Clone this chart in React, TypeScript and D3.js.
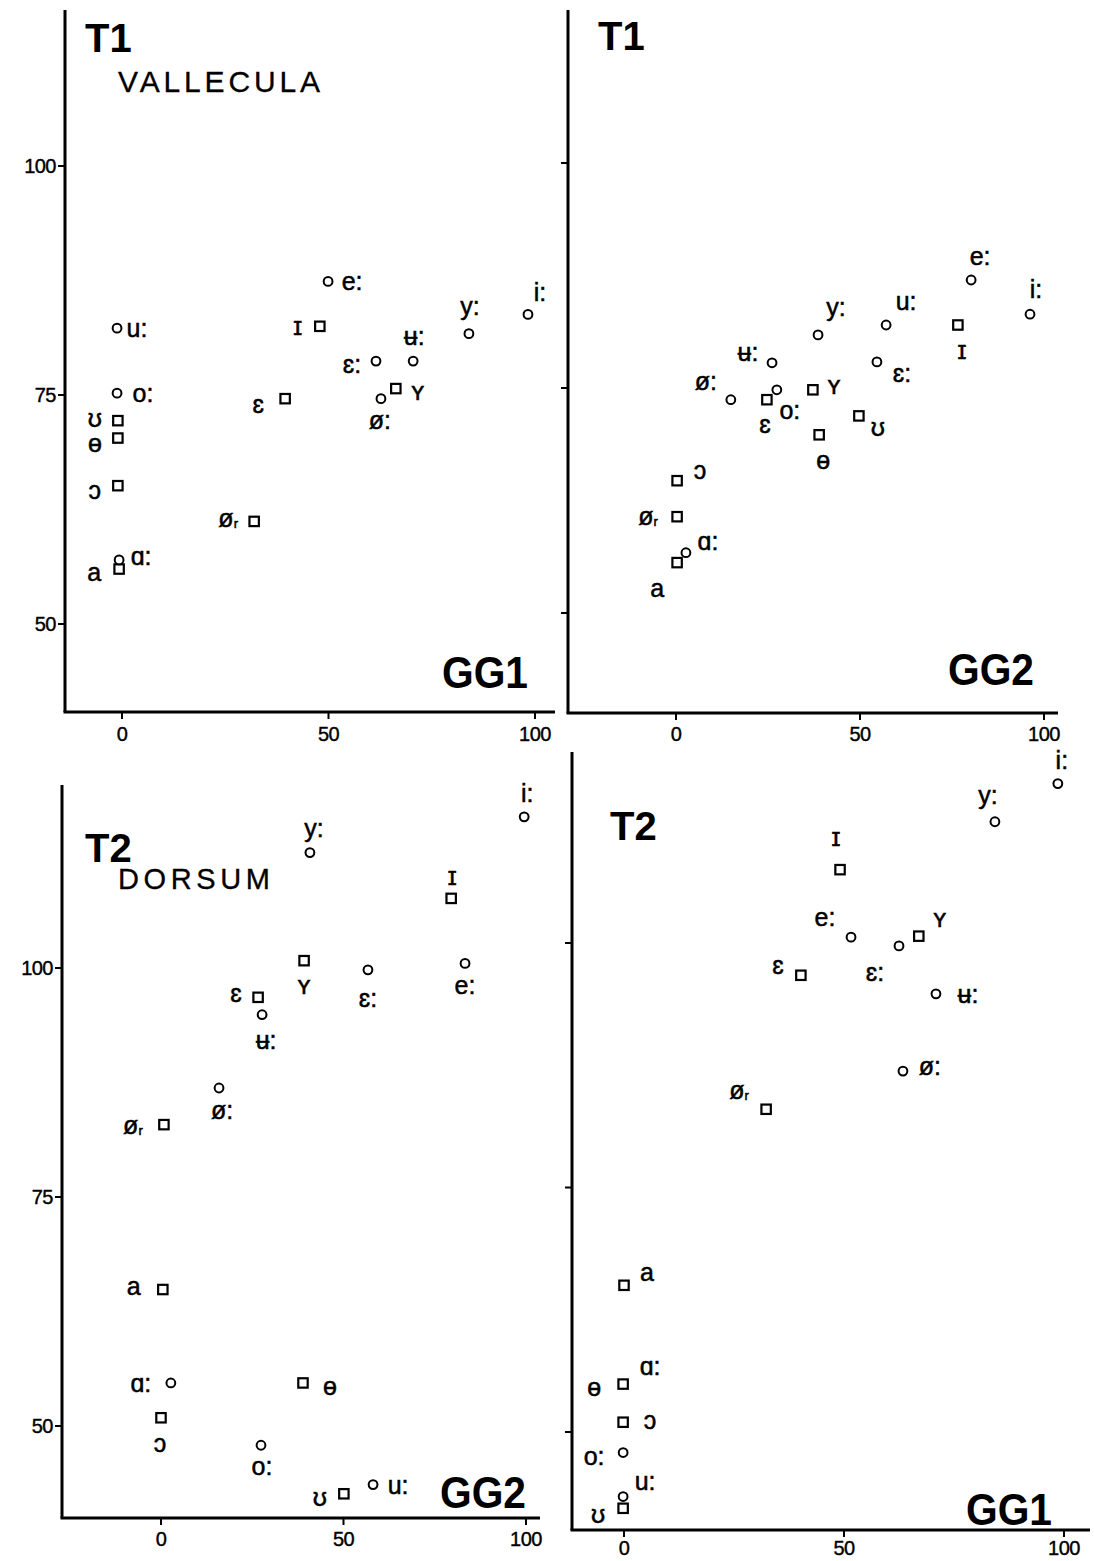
import React from "react";
import * as d3 from "d3";

// Vowel measurements: [vowel, marker, x value, y value]
// marker: "o" = long vowel (circle), "s" = short vowel (square), "-" = label only
type Row = [string, "o" | "s" | "-", number, number];

const valleculaGG1: Row[] = [
  ["u:", "o", -1.2, 82.3],
  ["o:", "o", -1.2, 75.2],
  ["ʊ", "s", -1.0, 72.2],
  ["ɵ", "s", -1.0, 70.3],
  ["ɔ", "s", -1.0, 65.1],
  ["a", "s", -0.7, 56.0],
  ["ɑ:", "o", -0.7, 57.0],
  ["ɪ", "s", 47.9, 82.5],
  ["e:", "o", 49.9, 87.4],
  ["ɛ:", "o", 61.5, 78.7],
  ["ʉ:", "o", 70.5, 78.7],
  ["y:", "o", 84.0, 81.7],
  ["i:", "o", 98.3, 83.8],
  ["ʏ", "s", 66.3, 75.7],
  ["ø:", "o", 62.7, 74.6],
  ["ɛ", "s", 39.5, 74.6],
  ["ør", "s", 32.0, 61.2],
];

const valleculaGG2: Row[] = [
  ["e:", "o", 80.2, 87.0],
  ["i:", "o", 96.2, 83.2],
  ["y:", "o", 38.6, 80.9],
  ["u:", "o", 57.1, 82.0],
  ["ɪ", "s", 76.6, 82.0],
  ["ʉ:", "o", 26.1, 77.8],
  ["ɛ:", "o", 54.6, 77.9],
  ["ø:", "o", 14.9, 73.7],
  ["ʏ", "s", 37.2, 74.8],
  ["o:", "o", 27.4, 74.8],
  ["ɛ", "s", 24.7, 73.7],
  ["ʊ", "s", 49.7, 71.9],
  ["ɵ", "s", 38.9, 69.8],
  ["ɔ", "s", 0.3, 64.7],
  ["ør", "s", 0.3, 60.7],
  ["ɑ:", "o", 2.7, 56.7],
  ["a", "s", 0.3, 55.6],
];

const dorsumGG2: Row[] = [
  ["i:", "o", 99.5, 116.5],
  ["y:", "o", 40.8, 112.6],
  ["ɪ", "s", 79.5, 107.6],
  ["ʏ", "s", 39.2, 100.8],
  ["ɛ:", "o", 56.7, 99.8],
  ["e:", "o", 83.3, 100.5],
  ["ɛ", "s", 26.6, 96.8],
  ["ʉ:", "o", 27.7, 94.9],
  ["ø:", "o", 15.9, 86.9],
  ["ør", "s", 0.8, 82.9],
  ["a", "s", 0.5, 64.9],
  ["ɑ:", "o", 2.7, 54.7],
  ["ɔ", "s", 0.0, 50.9],
  ["o:", "o", 27.4, 47.9],
  ["ɵ", "s", 38.9, 54.7],
  ["ʊ", "s", 50.1, 42.6],
  ["u:", "o", 58.1, 43.6],
];

const dorsumGG1: Row[] = [
  ["i:", "o", 98.6, 116.3],
  ["y:", "o", 84.3, 112.4],
  ["ɪ", "s", 49.1, 107.5],
  ["e:", "o", 51.6, 100.6],
  ["ʏ", "s", 67.0, 100.7],
  ["ɛ:", "o", 62.5, 99.7],
  ["ɛ", "s", 40.2, 96.7],
  ["ʉ:", "o", 70.9, 94.8],
  ["ø:", "o", 63.4, 86.9],
  ["ør", "s", 32.3, 83.0],
  ["a", "s", 0.0, 65.0],
  ["ɵ", "s", -0.2, 54.9],
  ["ɑ:", "-", -0.2, 54.9],
  ["ɔ", "s", -0.2, 51.0],
  ["o:", "o", -0.2, 47.9],
  ["u:", "o", -0.2, 43.4],
  ["ʊ", "s", -0.2, 42.2],
];

const xTickValues = [0, 50, 100];
const yTickValues = [50, 75, 100];

// Label placement (pixel offset of each label's centre from its marker), same order as rows
const offsetsA: [number, number][] = [
  [20, 0], [26, 0], [-23, -3], [-23, 5], [-23, 4], [-25, 3], [22, -4], [-22, 0],
  [24, 0], [-24, 3], [1, -25], [1, -28], [12, -22], [22, 2], [-1, 21], [-27, 5], [-26, -3],
];
const offsetsB: [number, number][] = [
  [9, -24], [6, -25], [18, -28], [20, -24], [4, 25], [-24, -11], [25, 11], [-25, -19],
  [21, -5], [13, 20], [-2, 24], [19, 11], [4, 25], [23, -11], [-29, -1], [22, -12], [-20, 25],
];
const offsetsC: [number, number][] = [
  [3, -24], [4, -25], [1, -22], [0, 24], [0, 28], [0, 22], [-22, -4], [4, 25],
  [3, 22], [-31, 0], [-29, -4], [-30, 0], [-1, 25], [1, 21], [27, 3], [-24, 3], [25, 0],
];
const offsetsD: [number, number][] = [
  [4, -24], [-7, -27], [-4, -33], [-26, -20], [21, -18], [-24, 26], [-23, -10], [32, 0],
  [27, -5], [-27, -19], [23, -13], [-29, 3], [27, -18], [27, -2], [-29, 3], [22, -16], [-25, 6],
];

interface PanelSpec {
  rows: Row[];
  offsets: [number, number][];
  x0: number; x100: number; // pixel positions of x = 0 and x = 100
  y50: number; y100: number; // pixel positions of y = 50 and y = 100
  axisX: number; axisTop: number; axisY: number; axisRight: number;
  tickGap: number;
  yLabels: boolean;
  title: string; titleX: number; titleY: number;
  sub?: string; subX?: number; subY?: number; subW?: number; subSize?: number;
  gg: string; ggX: number; ggY: number;
}

const panels: PanelSpec[] = [
  {
    rows: valleculaGG1, offsets: offsetsA,
    x0: 122, x100: 535, y50: 624, y100: 166,
    axisX: 65, axisTop: 10, axisY: 712, axisRight: 555, tickGap: 22, yLabels: true,
    title: "T1", titleX: 85, titleY: 52,
    sub: "VALLECULA", subX: 118, subY: 92, subW: 202, subSize: 30,
    gg: "GG1", ggX: 442, ggY: 688,
  },
  {
    rows: valleculaGG2, offsets: offsetsB,
    x0: 676, x100: 1044, y50: 613, y100: 163,
    axisX: 568, axisTop: 10, axisY: 713, axisRight: 1058, tickGap: 21, yLabels: false,
    title: "T1", titleX: 598, titleY: 50,
    gg: "GG2", ggX: 948, ggY: 685,
  },
  {
    rows: dorsumGG2, offsets: offsetsC,
    x0: 161, x100: 526, y50: 1426, y100: 968,
    axisX: 62, axisTop: 785, axisY: 1518, axisRight: 540, tickGap: 21, yLabels: true,
    title: "T2", titleX: 85, titleY: 862,
    sub: "DORSUM", subX: 118, subY: 889, subW: 152, subSize: 29,
    gg: "GG2", ggX: 440, ggY: 1508,
  },
  {
    rows: dorsumGG1, offsets: offsetsD,
    x0: 624, x100: 1064, y50: 1432, y100: 943,
    axisX: 572, axisTop: 752, axisY: 1530, axisRight: 1090, tickGap: 18, yLabels: false,
    title: "T2", titleX: 610, titleY: 840,
    gg: "GG1", ggX: 966, ggY: 1525,
  },
];

const FONT = "'Liberation Sans', 'DejaVu Sans', Arial, sans-serif";

function VowelLabel({ text, x, y }: { text: string; x: number; y: number }) {
  const common = {
    x, y, textAnchor: "middle" as const, dominantBaseline: "central" as const,
    fontSize: 25, fontFamily: FONT, stroke: "#000", strokeWidth: 0.5,
  };
  if (text === "ør") {
    return (
      <text {...common}>
        ø<tspan fontSize={13} dy={5}>r</tspan>
      </text>
    );
  }
  return <text {...common}>{text}</text>;
}

function Panel({ p }: { p: PanelSpec }) {
  const xs = d3.scaleLinear().domain([0, 100]).range([p.x0, p.x100]);
  const ys = d3.scaleLinear().domain([50, 100]).range([p.y50, p.y100]);
  return (
    <g>
      {/* axes */}
      <line x1={p.axisX} y1={p.axisTop} x2={p.axisX} y2={p.axisY} stroke="#000" strokeWidth={3} />
      <line x1={p.axisX - 1.5} y1={p.axisY} x2={p.axisRight} y2={p.axisY} stroke="#000" strokeWidth={3} />
      {yTickValues.map((v) => (
        <g key={"y" + v}>
          <line x1={p.axisX - 7} x2={p.axisX} y1={ys(v)} y2={ys(v)} stroke="#000" strokeWidth={2} />
          {p.yLabels && (
            <text x={p.axisX - 9} y={ys(v)} textAnchor="end" dominantBaseline="central" fontSize={20}
              fontFamily={FONT} stroke="#000" strokeWidth={0.4} letterSpacing={-0.5}>
              {v}
            </text>
          )}
        </g>
      ))}
      {xTickValues.map((v) => (
        <g key={"x" + v}>
          <line x1={xs(v)} x2={xs(v)} y1={p.axisY} y2={p.axisY + 7} stroke="#000" strokeWidth={2} />
          <text x={xs(v)} y={p.axisY + p.tickGap} textAnchor="middle" dominantBaseline="central" fontSize={20}
            fontFamily={FONT} stroke="#000" strokeWidth={0.4} letterSpacing={-0.5}>
            {v}
          </text>
        </g>
      ))}
      {/* titles */}
      <text x={p.titleX} y={p.titleY} fontSize={40} fontWeight="bold" fontFamily={FONT}>{p.title}</text>
      {p.sub && (
        <text x={p.subX} y={p.subY} fontSize={p.subSize} fontFamily={FONT} textLength={p.subW}
          lengthAdjust="spacing" stroke="#000" strokeWidth={0.3}>
          {p.sub}
        </text>
      )}
      <text x={p.ggX} y={p.ggY} fontSize={44} fontWeight="bold" fontFamily={FONT} textLength={86}
        lengthAdjust="spacingAndGlyphs">
        {p.gg}
      </text>
      {/* markers */}
      {p.rows.map((r, i) => {
        const cx = xs(r[2]);
        const cy = ys(r[3]);
        const [dx, dy] = p.offsets[i];
        return (
          <g key={i}>
            {r[1] === "o" && <circle cx={cx} cy={cy} r={4.4} fill="#fff" stroke="#000" strokeWidth={2} />}
            {r[1] === "s" && (
              <rect x={cx - 4.7} y={cy - 4.7} width={9.4} height={9.4} fill="#fff" stroke="#000" strokeWidth={2.2} />
            )}
            <VowelLabel text={r[0]} x={cx + dx} y={cy + dy} />
          </g>
        );
      })}
    </g>
  );
}

export default function App() {
  return (
    <svg
      width={1094}
      height={1561}
      viewBox="0 0 1094 1561"
      style={{ position: "absolute", left: 0, top: 0, background: "#fff" }}
    >
      <rect width={1094} height={1561} fill="#fff" />
      {panels.map((p, i) => (
        <Panel key={i} p={p} />
      ))}
    </svg>
  );
}
